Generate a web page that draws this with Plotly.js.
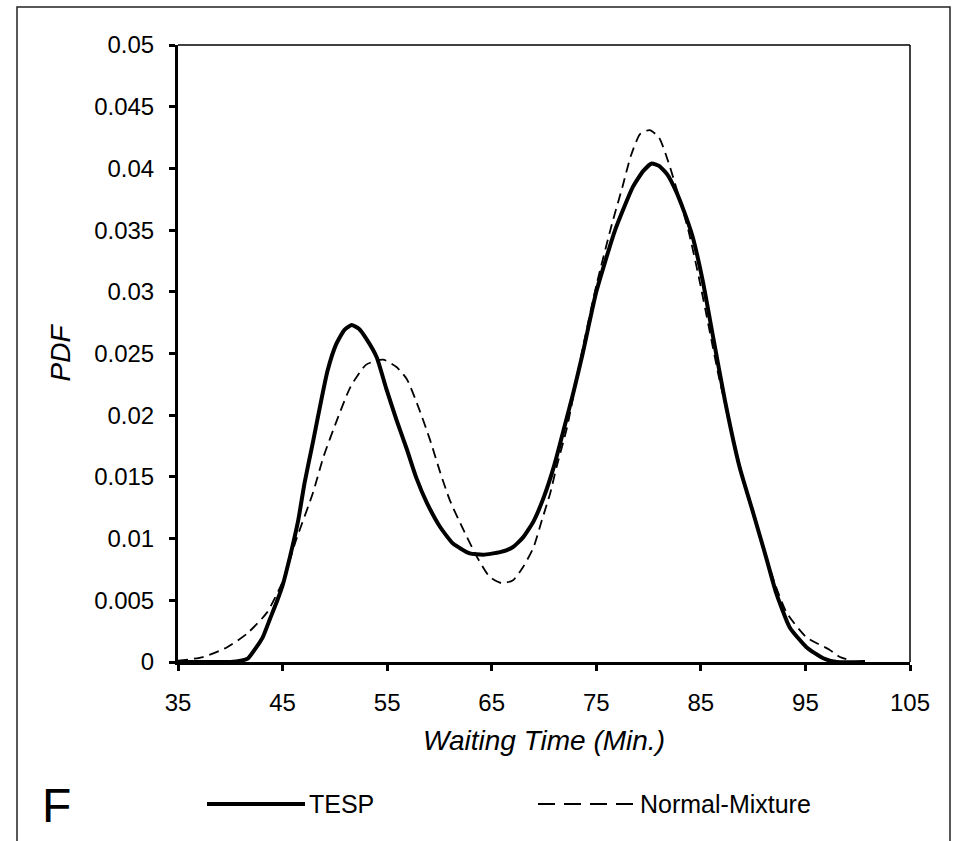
<!DOCTYPE html>
<html>
<head>
<meta charset="utf-8">
<script src="https://cdn.plot.ly/plotly-3.0.1.min.js"></script>
<style>
  html, body { margin: 0; padding: 0; background: #fff; }
  #chart { width: 958px; height: 841px; }
</style>
</head>
<body>
<div id="chart"></div>
<script>
// ---- Data ----
const tespX = [35, 36.5, 38, 40, 41, 41.7, 42.5, 43.1, 43.8, 44.5, 45.0, 45.7, 46.5, 47.1, 47.9, 48.6, 49.3, 50.1, 50.9, 51.6, 52.3, 53.0, 54.0, 54.9, 55.9, 56.9, 57.8, 58.8, 60.1, 61.3, 62.9, 64.2, 65.8, 67.0, 68.0, 69.0, 70.0, 71.0, 72.0, 72.8, 73.7, 75.0, 76.8, 78.5, 79.5, 80.3, 81.0, 81.8, 82.6, 83.4, 84.2, 85.2, 86.2, 87.3, 88.7, 90.0, 91.3, 92.2, 93.5, 95.1, 96.7, 98.0, 100.7];
const tespY = [0, 0, 0, 0, 0.0001, 0.0003, 0.0012, 0.002, 0.0035, 0.005, 0.0062, 0.0085, 0.0115, 0.0145, 0.0178, 0.0208, 0.0236, 0.0257, 0.0269, 0.0273, 0.027, 0.0262, 0.0247, 0.0222, 0.0196, 0.0172, 0.0149, 0.0129, 0.0109, 0.0096, 0.0088, 0.0087, 0.0089, 0.0093, 0.0101, 0.0114, 0.0134, 0.016, 0.0192, 0.0218, 0.025, 0.030, 0.035, 0.0385, 0.0398, 0.0404, 0.0402, 0.0395, 0.0382, 0.0365, 0.0345, 0.0308, 0.0262, 0.0212, 0.0158, 0.0121, 0.0083, 0.0056, 0.0028, 0.0012, 0.0003, 0, 0];

const nmX = [35, 37.4, 39.7, 41.6, 43.5, 45.0, 46.3, 47.9, 48.9, 50.2, 51.5, 53.0, 54.6, 55.9, 56.9, 58.1, 59.1, 60.1, 61.0, 62.3, 63.6, 64.8, 65.9, 67.0, 68.0, 69.0, 69.8, 70.6, 71.2, 72.2, 73.6, 75.0, 76.5, 77.5, 78.3, 79.2, 80.1, 81.0, 81.9, 82.8, 83.8, 84.8, 85.8, 86.7, 87.6, 88.7, 89.8, 91.0, 92.1, 93.2, 95.1, 97.3, 98.3, 99.5];
const nmY = [0.0001, 0.0004, 0.0012, 0.0023, 0.004, 0.0065, 0.0099, 0.0137, 0.0166, 0.0196, 0.0223, 0.0241, 0.0245, 0.0239, 0.0229, 0.0204, 0.018, 0.0153, 0.0131, 0.0107, 0.0085, 0.0069, 0.0064, 0.0066, 0.0077, 0.0093, 0.0115, 0.0137, 0.0158, 0.019, 0.025, 0.0305, 0.0355, 0.0385, 0.041, 0.0428, 0.0431, 0.0425, 0.0405, 0.038, 0.035, 0.0312, 0.027, 0.0232, 0.0199, 0.016, 0.0125, 0.0092, 0.0063, 0.004, 0.002, 0.001, 0.0004, 0.0001];

const xTickVals = [35, 45, 55, 65, 75, 85, 95, 105];
const xTickText = ["35", "45", "55", "65", "75", "85", "95", "105"];
const yTickVals = [0, 0.005, 0.01, 0.015, 0.02, 0.025, 0.03, 0.035, 0.04, 0.045, 0.05];
const yTickText = ["0", "0.005", "0.01", "0.015", "0.02", "0.025", "0.03", "0.035", "0.04", "0.045", "0.05"];

const seriesNames = ["TESP", "Normal-Mixture"];
const panelLabel = "F";
const xTitle = "Waiting Time (Min.)";
const yTitle = "PDF";

// ---- Layout geometry (pixels) ----
const W = 958, H = 841;
const L = 178, R = 910, T = 45, B = 662;
const px = v => (v - L) / (R - L);
const py = v => (B - v) / (B - T);

const FONT = "Liberation Sans, Arial, sans-serif";

const traces = [
  {
    x: nmX, y: nmY, type: "scatter", mode: "lines", name: seriesNames[1],
    line: { color: "#000", width: 1.8, dash: "10px,6px", shape: "spline", smoothing: 0.6 },
    showlegend: false, hoverinfo: "skip"
  },
  {
    x: tespX, y: tespY, type: "scatter", mode: "lines", name: seriesNames[0],
    line: { color: "#000", width: 4, shape: "spline", smoothing: 0.5 },
    showlegend: false, hoverinfo: "skip"
  }
];

const legY = py(804);

const layout = {
  width: W, height: H,
  margin: { l: L, r: W - R, t: T, b: H - B, pad: 0 },
  paper_bgcolor: "#fff", plot_bgcolor: "#fff",
  showlegend: false,
  font: { family: FONT, color: "#000", size: 24 },
  xaxis: {
    range: [35, 105], showgrid: false, zeroline: false,
    showline: true, linewidth: 3, linecolor: "#000",
    ticks: "outside", ticklen: 6, tickwidth: 3, tickcolor: "#000",
    tickvals: xTickVals, ticktext: xTickText,
    tickfont: { family: FONT, size: 24, color: "#000" },
    ticklabelstandoff: 11,
    title: { text: xTitle, font: { family: FONT, size: 28, color: "#000", style: "italic" }, standoff: 16 },
    automargin: false, fixedrange: true
  },
  yaxis: {
    range: [0, 0.05], showgrid: false, zeroline: false,
    showline: true, linewidth: 3, linecolor: "#000",
    ticks: "outside", ticklen: 6, tickwidth: 3, tickcolor: "#000",
    tickvals: yTickVals, ticktext: yTickText,
    tickfont: { family: FONT, size: 24, color: "#000" },
    ticklabelstandoff: 10,
    title: { text: yTitle, font: { family: FONT, size: 28, color: "#000", style: "italic" }, standoff: 16 },
    automargin: false, fixedrange: true
  },
  shapes: [
    { type: "line", xref: "paper", yref: "paper", x0: 0, x1: 1, y0: 1, y1: 1, line: { color: "#000", width: 1.5 } },
    { type: "line", xref: "paper", yref: "paper", x0: 1, x1: 1, y0: 0, y1: 1, line: { color: "#000", width: 1.5 } },
    { type: "rect", xref: "paper", yref: "paper", x0: px(17), x1: px(950), y0: py(860), y1: py(7), line: { color: "#222", width: 1.5 } },
    { type: "line", xref: "paper", yref: "paper", x0: px(207), x1: px(305), y0: legY, y1: legY, line: { color: "#000", width: 4 } },
    { type: "line", xref: "paper", yref: "paper", x0: px(538), x1: px(633), y0: legY, y1: legY, line: { color: "#000", width: 2, dash: "17px,9px" } }
  ],
  annotations: [
    { text: seriesNames[0], xref: "paper", yref: "paper", x: px(307), y: legY, xanchor: "left", yanchor: "middle", showarrow: false,
      font: { family: FONT, size: 25, color: "#000" } },
    { text: seriesNames[1], xref: "paper", yref: "paper", x: px(638), y: legY, xanchor: "left", yanchor: "middle", showarrow: false,
      font: { family: FONT, size: 25, color: "#000" } },
    { text: panelLabel, xref: "paper", yref: "paper", x: px(40), y: py(805), xanchor: "left", yanchor: "middle", showarrow: false,
      font: { family: FONT, size: 48, color: "#000" } }
  ]
};

Plotly.newPlot("chart", traces, layout, { displayModeBar: false, staticPlot: true });
</script>
</body>
</html>
